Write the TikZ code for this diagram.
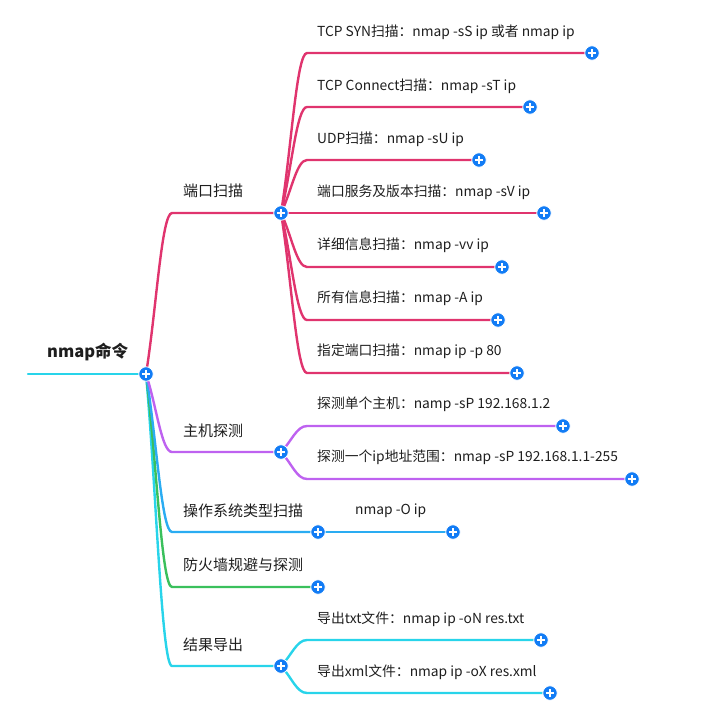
\documentclass[tikz,border=0pt]{standalone}
\usepackage{fontspec}
\setmainfont{Noto Sans CJK SC}
\usetikzlibrary{calc}
\definecolor{cpink}{RGB}{224,52,110}
\definecolor{cpurple}{RGB}{190,98,240}
\definecolor{cblue}{RGB}{42,172,242}
\definecolor{cgreen}{RGB}{58,192,92}
\definecolor{ccyan}{RGB}{40,212,234}
\definecolor{plusblue}{RGB}{18,124,245}
\definecolor{txt}{RGB}{30,30,30}
\begin{document}
\begin{tikzpicture}[x=1pt,y=-1pt,
  conn/.style={line width=2.4pt, line cap=round},
  mm/.style={to path={.. controls ($(\tikztostart)!0.4!(\tikztotarget)$) and ($(\tikztotarget)!0.4!(\tikztostart |- \tikztotarget)$) .. (\tikztotarget)}},
  lbl/.style={anchor=west, inner sep=0pt, text=txt, font=\fontsize{13.8}{16}\selectfont},
  toplbl/.style={anchor=west, inner sep=0pt, text=txt, font=\fontsize{15}{17}\selectfont},
  rootlbl/.style={anchor=west, inner sep=0pt, text=txt, font=\bfseries\fontsize{16.5}{18}\selectfont},
  plusbtn/.style={circle, fill=plusblue, draw=white, line width=0.8pt, minimum size=14.5pt, inner sep=0pt,
    path picture={
      \draw[white, line width=1.7pt] ([xshift=-3.6pt]path picture bounding box.center) -- ([xshift=3.6pt]path picture bounding box.center);
      \draw[white, line width=1.7pt] ([yshift=-3.6pt]path picture bounding box.center) -- ([yshift=3.6pt]path picture bounding box.center);
    }}
]
\useasboundingbox (0,0) rectangle (725,716);

% ---------- coordinates ----------
\coordinate (rs) at (28,374);
\coordinate (root) at (146,374);
% level 1 corners and plus points
\coordinate (k1) at (172,213); \coordinate (p1) at (281,213);
\coordinate (k2) at (172,452); \coordinate (p2) at (281,452);
\coordinate (k3) at (172,532); \coordinate (p3) at (318,532);
\coordinate (k4) at (172,587); \coordinate (p4) at (318,587);
\coordinate (k5) at (172,666); \coordinate (p5) at (281,666);
% port scan children
\coordinate (a1k) at (307,53);  \coordinate (a1) at (592,53);
\coordinate (a2k) at (307,107); \coordinate (a2) at (530,107);
\coordinate (a3k) at (307,160); \coordinate (a3) at (479,160);
\coordinate (a4) at (544,213);
\coordinate (a5k) at (307,267); \coordinate (a5) at (502,267);
\coordinate (a6k) at (307,320); \coordinate (a6) at (498,320);
\coordinate (a7k) at (307,373); \coordinate (a7) at (517,373);
% host discovery children
\coordinate (b1k) at (307,426); \coordinate (b1) at (563,426);
\coordinate (b2k) at (307,479); \coordinate (b2) at (632,479);
% os
\coordinate (c1) at (453,532);
% export children
\coordinate (e1k) at (307,640); \coordinate (e1) at (541,640);
\coordinate (e2k) at (307,693); \coordinate (e2) at (550,693);

% ---------- connectors ----------
\draw[conn, ccyan] (rs) -- (root);
\draw[conn, ccyan] (root) to[mm] (k5) -- (p5);
\draw[conn, cgreen] (root) to[mm] (k4) -- (p4);
\draw[conn, cblue] (root) to[mm] (k3) -- (p3);
\draw[conn, cpurple] (root) to[mm] (k2) -- (p2);
\draw[conn, cpink] (root) to[mm] (k1) -- (p1);

\draw[conn, cpink] (p1) to[mm] (a1k) -- (a1);
\draw[conn, cpink] (p1) to[mm] (a2k) -- (a2);
\draw[conn, cpink] (p1) to[mm] (a3k) -- (a3);
\draw[conn, cpink] (p1) -- (a4);
\draw[conn, cpink] (p1) to[mm] (a5k) -- (a5);
\draw[conn, cpink] (p1) to[mm] (a6k) -- (a6);
\draw[conn, cpink] (p1) to[mm] (a7k) -- (a7);

\draw[conn, cpurple] (p2) to[mm] (b1k) -- (b1);
\draw[conn, cpurple] (p2) to[mm] (b2k) -- (b2);

\draw[conn, cblue] (p3) -- (c1);

\draw[conn, ccyan] (p5) to[mm] (e1k) -- (e1);
\draw[conn, ccyan] (p5) to[mm] (e2k) -- (e2);

% ---------- labels ----------
\node[rootlbl] (troot) at (47,352) {nmap命令};
\node[toplbl] (t1) at (183,191) {端口扫描};
\node[toplbl] (t2) at (183,431) {主机探测};
\node[toplbl] (t3) at (183,511) {操作系统类型扫描};
\node[toplbl] (t4) at (183,565) {防火墙规避与探测};
\node[toplbl] (t5) at (183,645) {结果导出};

\node[lbl] (ta1) at (317,32) {TCP SYN扫描：nmap -sS ip 或者 nmap ip};
\node[lbl] (ta2) at (317,86) {TCP Connect扫描：nmap -sT ip};
\node[lbl] (ta3) at (317,139) {UDP扫描：nmap -sU ip};
\node[lbl] (ta4) at (317,192) {端口服务及版本扫描：nmap -sV ip};
\node[lbl] (ta5) at (317,245) {详细信息扫描：nmap -vv ip};
\node[lbl] (ta6) at (317,298) {所有信息扫描：nmap -A ip};
\node[lbl] (ta7) at (317,351) {指定端口扫描：nmap ip -p 80};

\node[lbl] (tb1) at (317,404) {探测单个主机：namp -sP 192.168.1.2};
\node[lbl] (tb2) at (317,457) {探测一个ip地址范围：nmap -sP 192.168.1.1-255};

\node[lbl] (tc1) at (355,511) {nmap -O ip};

\node[lbl] (te1) at (317,619) {导出txt文件：nmap ip -oN res.txt};
\node[lbl] (te2) at (317,672) {导出xml文件：nmap ip -oX res.xml};

% ---------- plus buttons ----------
\foreach \p in {root,p1,p2,p3,p4,p5,a1,a2,a3,a4,a5,a6,a7,b1,b2,c1,e1,e2}
  \node[plusbtn] (btn-\p) at (\p) {};
\end{tikzpicture}
\end{document}
